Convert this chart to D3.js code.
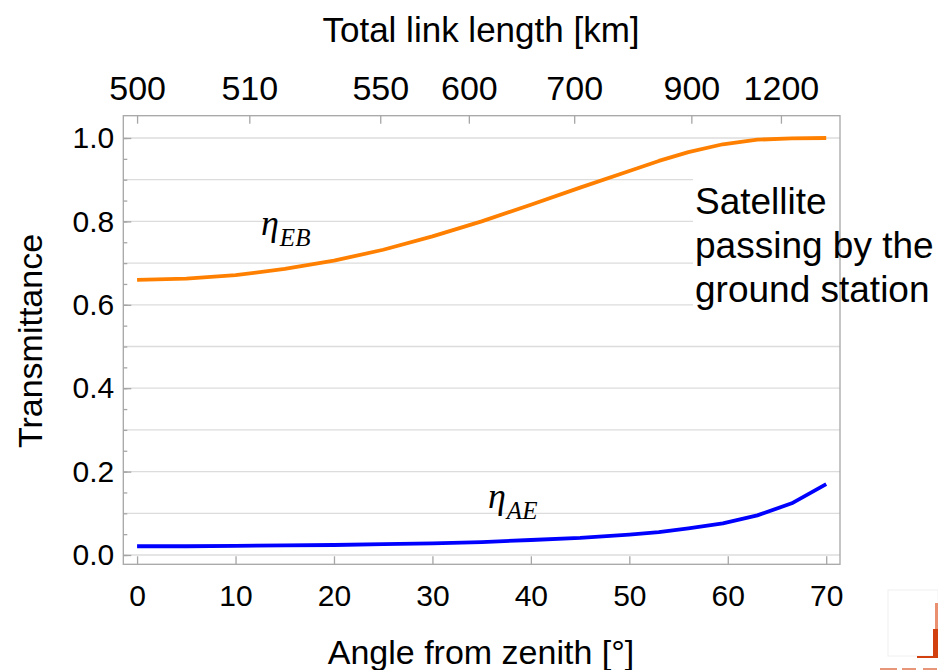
<!DOCTYPE html>
<html>
<head>
<meta charset="utf-8">
<script src="https://cdn.jsdelivr.net/npm/d3@7"></script>
<style>
  html, body { margin: 0; padding: 0; background: #fff; }
  svg { display: block; }
  .tick text { font-family: "Liberation Sans", Arial, sans-serif; font-size: 30px; fill: #000; }
  .top-axis .tick text { font-size: 34px; }
</style>
</head>
<body>
<svg id="chart" width="938" height="670"></svg>
<script>
// Zenith angle samples [deg]
const angles = [0, 5, 10, 15, 20, 25, 30, 35, 40, 45, 50, 53, 56, 59.5, 63, 66.5, 70];
// Transmittance of the two links
const etaEB = [0.660, 0.663, 0.671, 0.686, 0.706, 0.732, 0.764, 0.800, 0.840, 0.881, 0.921, 0.945, 0.966, 0.985, 0.996, 0.999, 1.000];
const etaAE = [0.021, 0.021, 0.022, 0.023, 0.024, 0.026, 0.028, 0.031, 0.036, 0.041, 0.049, 0.055, 0.064, 0.076, 0.095, 0.124, 0.170];

// Top axis: total link length labels and the zenith angles where they occur
const linkLengthLabels = ["500", "510", "550", "600", "700", "900", "1200"];
const linkLengthAngles = [0, 11.4, 24.7, 33.7, 44.4, 56.3, 65.4];

// Axis ticks
const angleTicks = [0, 10, 20, 30, 40, 50, 60, 70];
const transTicks = [0, 0.2, 0.4, 0.6, 0.8, 1.0];
const transMinor = d3.range(0, 1.0001, 0.05);
const transGrid = d3.range(0, 1.0001, 0.1);

const svg = d3.select("#chart");
const frame = { left: 123.3, right: 840, top: 115.7, bottom: 564.3 };

const x = d3.scaleLinear().domain([-1.4, 71.4]).range([frame.left, frame.right]);
const y = d3.scaleLinear().domain([-0.0223, 1.0535]).range([frame.bottom, frame.top]);

const frameColor = "#a6a6a6";
const gridColor = "#dcdcdc";

// horizontal grid lines
svg.append("g").selectAll("line").data(transGrid).join("line")
  .attr("x1", frame.left).attr("x2", frame.right)
  .attr("y1", d => y(d)).attr("y2", d => y(d))
  .attr("stroke", gridColor).attr("stroke-width", 1.3);

// white note box sitting over the grid on the right
svg.append("rect")
  .attr("x", 693).attr("y", 174).attr("width", frame.right - 693).attr("height", 140)
  .attr("fill", "#fff");

// curves
const line = d3.line().x(d => x(d[0])).y(d => y(d[1]));
svg.append("path").datum(angles.map((a, i) => [a, etaEB[i]]))
  .attr("d", line).attr("fill", "none").attr("stroke", "#ff8000")
  .attr("stroke-width", 3.8).attr("stroke-linejoin", "round");
svg.append("path").datum(angles.map((a, i) => [a, etaAE[i]]))
  .attr("d", line).attr("fill", "none").attr("stroke", "#0000ff")
  .attr("stroke-width", 3.8).attr("stroke-linejoin", "round");

// frame
svg.append("rect")
  .attr("x", frame.left).attr("y", frame.top)
  .attr("width", frame.right - frame.left).attr("height", frame.bottom - frame.top)
  .attr("fill", "none").attr("stroke", frameColor).attr("stroke-width", 1.3);

function styleAxis(g) {
  g.select(".domain").remove();
  g.selectAll(".tick line").attr("stroke", frameColor).attr("stroke-width", 1.3);
}

// bottom axis
svg.append("g").attr("transform", `translate(0,${frame.bottom})`)
  .call(d3.axisBottom(x).tickValues(angleTicks).tickFormat(d3.format("d")).tickSize(-8).tickPadding(20))
  .call(styleAxis);

// top axis
svg.append("g").attr("class", "top-axis").attr("transform", `translate(0,${frame.top})`)
  .call(d3.axisTop(x).tickValues(linkLengthAngles).tickFormat((d, i) => linkLengthLabels[i]).tickSize(-8).tickPadding(16))
  .call(styleAxis);

// left axis: minor then major
svg.append("g").attr("transform", `translate(${frame.left},0)`)
  .call(d3.axisLeft(y).tickValues(transMinor).tickFormat("").tickSize(-4))
  .call(styleAxis);
svg.append("g").attr("transform", `translate(${frame.left},0)`)
  .call(d3.axisLeft(y).tickValues(transTicks).tickFormat(d3.format(".1f")).tickSize(-8).tickPadding(9))
  .call(styleAxis);

// axis titles
const sans = "'Liberation Sans', Arial, sans-serif";
svg.append("text").attr("x", 481).attr("y", 42).attr("text-anchor", "middle")
  .attr("font-family", sans).attr("font-size", 35).text("Total link length [km]");
svg.append("text").attr("x", 481).attr("y", 664).attr("text-anchor", "middle")
  .attr("font-family", sans).attr("font-size", 34).text("Angle from zenith [°]");
svg.append("text").attr("transform", "translate(42,341) rotate(-90)").attr("text-anchor", "middle")
  .attr("font-family", sans).attr("font-size", 34).text("Transmittance");

// curve labels
function etaLabel(px, py, sub) {
  const t = svg.append("text").attr("x", px).attr("y", py)
    .attr("font-family", "'Liberation Serif', 'DejaVu Serif', serif").attr("font-style", "italic");
  t.append("tspan").attr("font-size", 36).text("η");
  t.append("tspan").attr("font-size", 25).attr("dx", 1).attr("dy", 11).text(sub);
}
etaLabel(261, 235, "EB");
etaLabel(488, 508, "AE");

// note
const note = svg.append("text").attr("font-family", sans).attr("font-size", 37).attr("fill", "#000");
["Satellite", "passing by the", "ground station"].forEach((s, i) => {
  note.append("tspan").attr("x", 695).attr("y", 214 + i * 44).text(s);
});

// corner emblem fragment
const emblem = "#d2400f";
svg.append("rect").attr("x", 888).attr("y", 590).attr("width", 50).attr("height", 66)
  .attr("fill", "none").attr("stroke", "#f0f0f0").attr("stroke-width", 1);
svg.append("rect").attr("x", 935).attr("y", 603).attr("width", 3).attr("height", 28).attr("fill", "#e89070");
svg.append("rect").attr("x", 933).attr("y", 629).attr("width", 5).attr("height", 29).attr("fill", emblem);
svg.append("rect").attr("x", 917).attr("y", 656).attr("width", 21).attr("height", 2).attr("fill", emblem);
[[880, 17], [902, 14], [923, 14]].forEach(([sx, w]) => {
  svg.append("rect").attr("x", sx).attr("y", 668).attr("width", w).attr("height", 2).attr("fill", "#e8967a");
});
</script>
</body>
</html>
